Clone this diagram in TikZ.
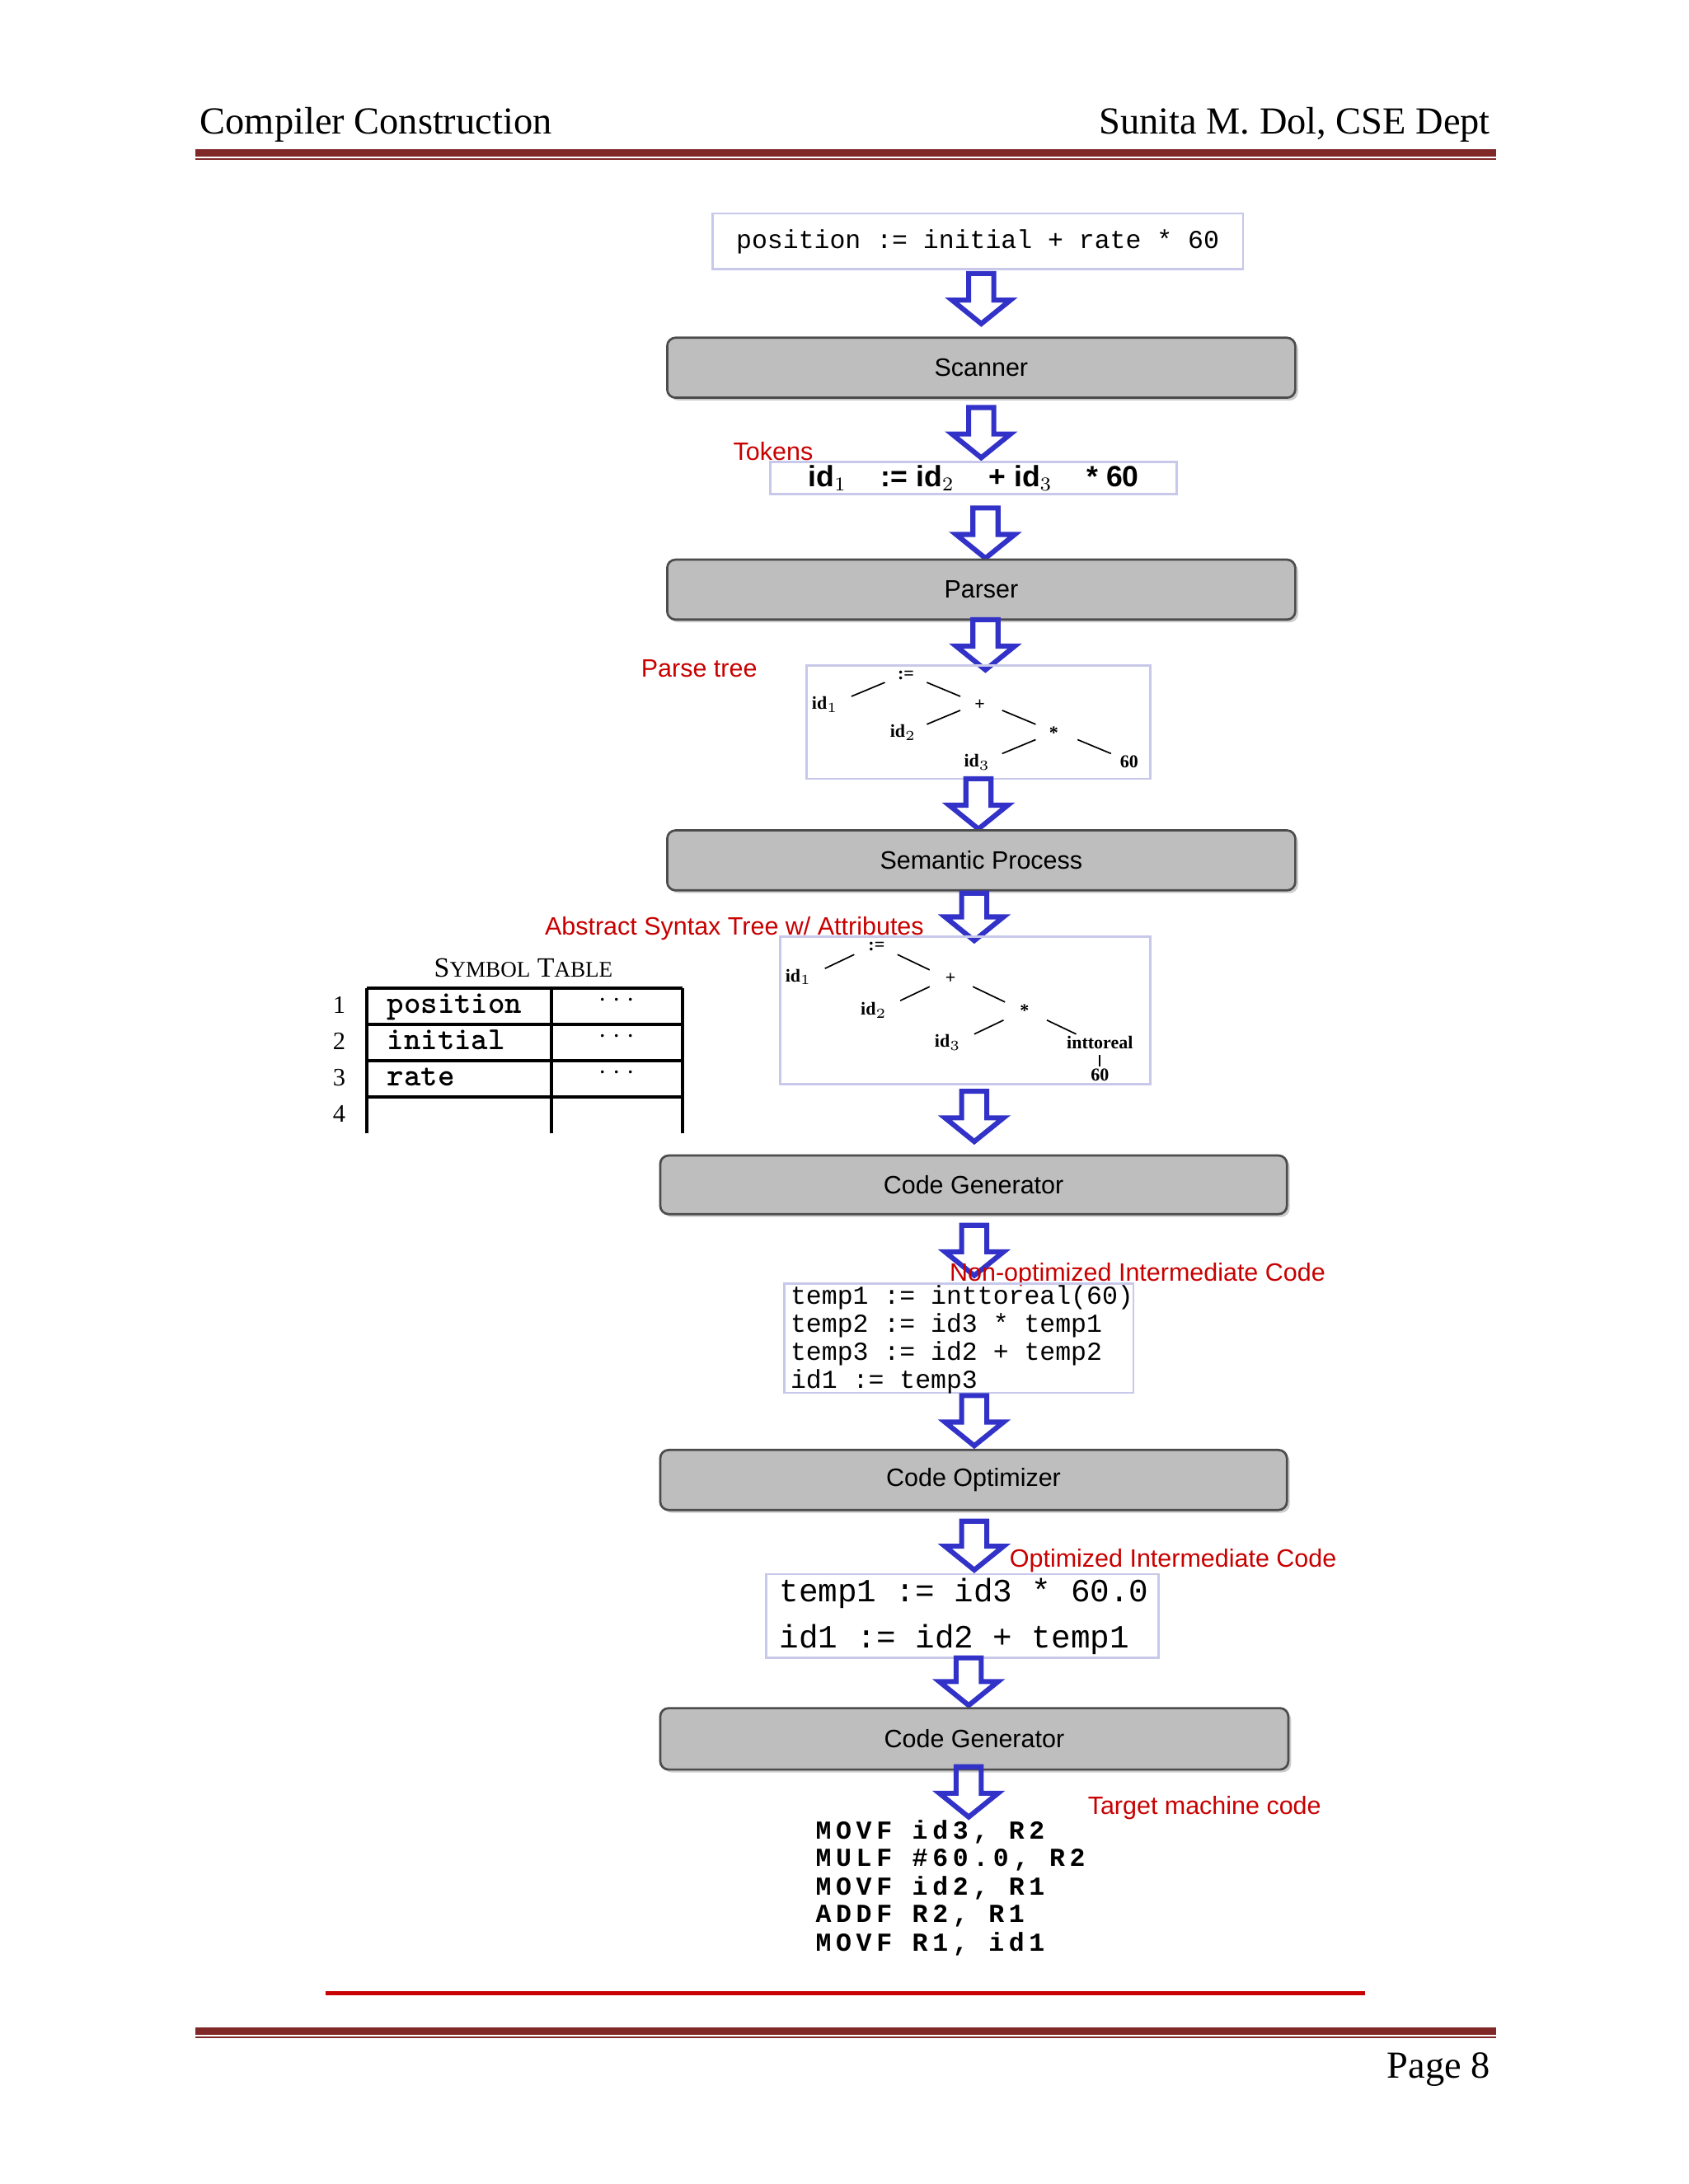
\documentclass[tikz,border=0pt]{standalone}
\usepackage{fontspec}
\setmainfont{Liberation Serif}
\newfontfamily\sansf{Liberation Sans}
\newfontfamily\monof{Liberation Mono}
\newfontfamily\monosp[LetterSpace=18]{Liberation Mono}
\usetikzlibrary{shadows}
\definecolor{hdr}{RGB}{128,40,40}
\definecolor{lbl}{RGB}{200,0,0}
\definecolor{arr}{RGB}{50,50,200}
\definecolor{lav}{RGB}{200,200,235}
\definecolor{stage}{RGB}{190,190,190}
\tikzset{
 stage/.style={draw=black!70,line width=0.8pt,fill=stage,rounded corners=3pt,drop shadow={shadow xshift=1pt,shadow yshift=-1pt,opacity=0.4},font=\sansf\fontsize{9}{10}\selectfont},
 lab/.style={text=lbl,font=\sansf\fontsize{9}{10}\selectfont,inner sep=0pt},
 cbox/.style={draw=lav,line width=0.8pt},
 tn/.style={font=\bfseries\fontsize{6.5}{7}\selectfont,inner sep=0.5pt},
 tl/.style={line width=0.5pt},
 code/.style={font=\monof\fontsize{9.3}{10}\selectfont,inner sep=0pt,anchor=west}
}
\newcommand{\harrow}[3]{% x, ytop, ybottom
 \draw[arr,line width=1.8pt,line join=miter] (#1-9,#2) -- (#1+9,#2) -- (#1+9,#3-17) -- (#1+21,#3-17) -- (#1,#3) -- (#1-21,#3-17) -- (#1-9,#3-17) -- cycle;}
\begin{document}
\begin{tikzpicture}[x=0.5pt,y=-0.5pt]
\useasboundingbox (0,0) rectangle (1210,1565);
% header
\node[anchor=base west,inner sep=0pt,font=\fontsize{13.7}{16}\selectfont] (h1) at (143,96) {Compiler Construction};
\node[anchor=base east,inner sep=0pt,font=\fontsize{13.7}{16}\selectfont] (h2) at (1068,96) {Sunita M. Dol, CSE Dept};
\fill[hdr] (140,107) rectangle (1072,112);
\fill[hdr] (140,113.5) rectangle (1072,114.5);
% input
\node[cbox,minimum width=190pt,minimum height=20pt,font=\monof\fontsize{9.3}{10}\selectfont] (in) at (700.5,173) {position := initial + rate * 60};
\harrow{703}{196}{232}
\node[stage,minimum width=225pt,minimum height=21.5pt] (sc) at (703,263.5) {Scanner};
\harrow{703}{292}{328}
\node[lab,anchor=base west] (tk) at (525,330) {Tokens};
\node[cbox,minimum width=145.5pt,minimum height=11.5pt,inner sep=0pt,font=\sansf\bfseries\fontsize{10.5}{10}\selectfont] (tks) at (697.5,342.5) {id$_1$\quad\,:=\;id$_2$\quad\,+\;id$_3$\quad\,*\;60};
\harrow{706}{364}{400}
\node[stage,minimum width=225pt,minimum height=21.5pt] (pa) at (703,422.5) {Parser};
\harrow{706}{444}{480}
\node[lab,anchor=base west] (pt) at (459,485) {Parse tree};
\node[cbox,minimum width=123pt,minimum height=40.5pt] (ptb) at (701,517.5) {};
\node[tn] (a1) at (649,484) {:=};
\node[tn] (a2) at (591,505) {id$_1$};
\node[tn] (a3) at (702,505) {+};
\node[tn] (a4) at (647,525) {id$_2$};
\node[tn] (a5) at (755,525) {*};
\node[tn] (a6) at (700,546) {id$_3$};
\node[tn] (a7) at (809,546) {60};
\draw[tl] (610,499) -- (634,489); \draw[tl] (664,489) -- (688,499);
\draw[tl] (664,519) -- (688,509); \draw[tl] (718,509) -- (742,519);
\draw[tl] (718,540) -- (742,530); \draw[tl] (772,530) -- (796,540);
\harrow{701}{558}{594}
\node[stage,minimum width=225pt,minimum height=21.5pt] (se) at (703,616.5) {Semantic Process};
\harrow{698}{640}{674}
\node[lab,anchor=base west] (ast) at (390,670) {Abstract Syntax Tree w/ Attributes};
\node[cbox,minimum width=132.5pt,minimum height=53pt] (astb) at (691.5,724) {};
\node[tn] (b1) at (628,678) {:=};
\node[tn] (b2) at (572,700) {id$_1$};
\node[tn] (b3) at (681,701) {+};
\node[tn] (b4) at (626,724) {id$_2$};
\node[tn] (b5) at (734,724) {*};
\node[tn] (b6) at (679,747) {id$_3$};
\node[tn] (b7) at (788,747) {inttoreal};
\node[tn] (b8) at (788,770) {60};
\draw[tl] (591,694) -- (612,684); \draw[tl] (643,684) -- (666,695);
\draw[tl] (645,717) -- (666,707); \draw[tl] (697,707) -- (720,718);
\draw[tl] (698,741) -- (719,731); \draw[tl] (750,731) -- (771,741);
\draw[tl] (788,756) -- (788,764);
% symbol table
\node[anchor=base,inner sep=0pt,font=\fontsize{10}{10}\selectfont] (stt) at (375,700) {S{\fontsize{8}{8}\selectfont YMBOL} T{\fontsize{8}{8}\selectfont ABLE}};
\draw[line width=1.2pt] (263,708) -- (489,708) (263,734) -- (489,734) (263,760) -- (489,760) (263,786) -- (489,786);
\draw[line width=1.2pt] (263,708) -- (263,812) (395,708) -- (395,812) (489,708) -- (489,812);
\foreach \r/\y/\t in {1/721/position,2/747/initial,3/773/rate}{
 \node[anchor=base,inner sep=0pt,font=\fontsize{9}{9}\selectfont] (n\r) at (243,\y+5) {\r};
 \node[anchor=base west,inner sep=0pt,font=\ttfamily\bfseries\fontsize{11.5}{11}\selectfont] (s\r) at (277,\y+5) {\t};
 \node[inner sep=0pt] (d\r) at (442,\y-4) {$\cdot\cdot\cdot$};
}
\node[anchor=base,inner sep=0pt,font=\fontsize{9}{9}\selectfont] (n4) at (243,804) {4};
\harrow{698}{782}{818}
\node[stage,minimum width=224.5pt,minimum height=21pt] (cg1) at (697.5,849) {Code Generator};
\harrow{698}{878}{914}
\node[lab,anchor=base west] (noi) at (680,918) {Non-optimized Intermediate Code};
\node[cbox,minimum width=125pt,minimum height=39pt] (nob) at (687,959) {};
\node[code] (c1) at (566,930) {temp1 := inttoreal(60)};
\node[code] (c2) at (566,950) {temp2 := id3 * temp1};
\node[code] (c3) at (566,970) {temp3 := id2 + temp2};
\node[code] (c4) at (566,990) {id1 := temp3};
\harrow{698}{1000}{1036}
\node[stage,minimum width=224.5pt,minimum height=21.5pt] (co) at (697.5,1060.5) {Code Optimizer};
\harrow{698}{1090}{1125}
\node[lab,anchor=base west] (oi) at (723,1123) {Optimized Intermediate Code};
\node[cbox,minimum width=140.5pt,minimum height=30pt] (ob) at (689.5,1158) {};
\node[code,font=\monof\fontsize{11.6}{12}\selectfont] (o1) at (558,1142) {temp1 := id3 * 60.0};
\node[code,font=\monof\fontsize{11.6}{12}\selectfont] (o2) at (558,1175) {id1 := id2 + temp1};
\harrow{694}{1188}{1222}
\node[stage,minimum width=225pt,minimum height=22pt] (cg2) at (698,1246) {Code Generator};
\harrow{694}{1266}{1302}
\node[lab,anchor=base west] (tm) at (779,1300) {Target machine code};
\foreach \i/\y/\t in {1/1313/{MOVF id3, R2},2/1333/{MULF \#60.0, R2},3/1353/{MOVF id2, R1},4/1373/{ADDF R2, R1},5/1393/{MOVF R1, id1}}
 \node[code,font=\monosp\bfseries\fontsize{9.3}{11}\selectfont] (m\i) at (584,\y) {\t};
\fill[lbl] (233,1427) rectangle (978,1429.5);
\fill[hdr] (140,1453) rectangle (1072,1458);
\fill[hdr] (140,1459.5) rectangle (1072,1460.5);
\node[anchor=base east,inner sep=0pt,font=\fontsize{13.7}{16}\selectfont] (pg) at (1068,1489) {Page 8};
\end{tikzpicture}
\end{document}
